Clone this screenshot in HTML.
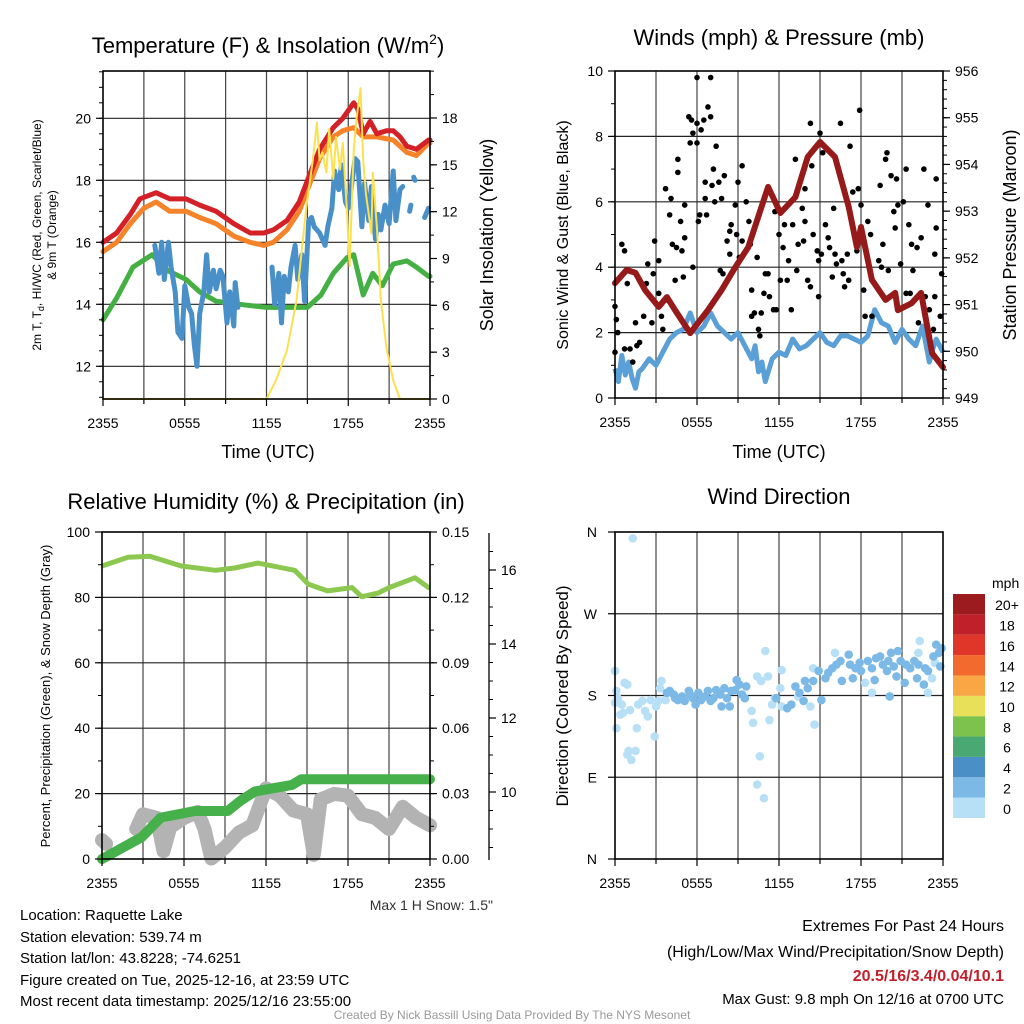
<!DOCTYPE html>
<html><head><meta charset="utf-8"><style>
body{margin:0;background:#fff}
svg{display:block;font-family:"Liberation Sans",sans-serif}
</style></head><body>
<svg id="fig" width="1024" height="1024" viewBox="0 0 1024 1024" xmlns="http://www.w3.org/2000/svg">
<rect width="1024" height="1024" fill="#fff"/>
<g id="p1"></g>
<g id="p2"></g>
<g id="p3"></g>
<g id="p4"></g>

<text x="268" y="53" font-size="22" text-anchor="middle">Temperature (F) &amp; Insolation (W/m<tspan font-size="14" dy="-9">2</tspan><tspan dy="9">)</tspan></text>
<text x="779" y="45" font-size="22" text-anchor="middle">Winds (mph) &amp; Pressure (mb)</text>
<text x="266" y="509" font-size="22" text-anchor="middle">Relative Humidity (%) &amp; Precipitation (in)</text>
<text x="779" y="504" font-size="22" text-anchor="middle">Wind Direction</text>

<text x="268" y="458" font-size="18" text-anchor="middle">Time (UTC)</text>
<text x="779" y="458" font-size="18" text-anchor="middle">Time (UTC)</text>

<text transform="translate(41,235) rotate(-90)" font-size="12" text-anchor="middle">2m T, T<tspan font-size="9" dy="3">d</tspan><tspan dy="-3">, HI/WC (Red, Green, Scarlet/Blue)</tspan></text>
<text transform="translate(56,235) rotate(-90)" font-size="12" text-anchor="middle">&amp; 9m T (Orange)</text>
<text transform="translate(493,235) rotate(-90)" font-size="18" text-anchor="middle">Solar Insolation (Yellow)</text>
<text transform="translate(568,235) rotate(-90)" font-size="16" text-anchor="middle">Sonic Wind &amp; Gust (Blue, Black)</text>
<text transform="translate(1016,235) rotate(-90)" font-size="18" text-anchor="middle">Station Pressure (Maroon)</text>
<text transform="translate(50,696) rotate(-90)" font-size="13" text-anchor="middle">Percent, Precipitation (Green), &amp; Snow Depth (Gray)</text>
<text transform="translate(568,696) rotate(-90)" font-size="17" text-anchor="middle">Direction (Colored By Speed)</text>

<text x="493" y="910" font-size="14" text-anchor="end" fill="#333">Max 1 H Snow: 1.5"</text>
<g font-size="15">
<text x="20" y="920">Location: Raquette Lake</text>
<text x="20" y="942">Station elevation: 539.74 m</text>
<text x="20" y="963">Station lat/lon: 43.8228; -74.6251</text>
<text x="20" y="985">Figure created on Tue, 2025-12-16, at 23:59 UTC</text>
<text x="20" y="1006">Most recent data timestamp: 2025/12/16 23:55:00</text>
</g>
<g font-size="16" text-anchor="end">
<text x="1004" y="931">Extremes For Past 24 Hours</text>
<text x="1004" y="957">(High/Low/Max Wind/Precipitation/Snow Depth)</text>
<text x="1004" y="981" fill="#c21f2a" font-weight="bold">20.5/16/3.4/0.04/10.1</text>
<text x="1004" y="1004" font-size="15">Max Gust: 9.8 mph On 12/16 at 0700 UTC</text>
</g>
<text x="512" y="1019" font-size="12" text-anchor="middle" fill="#999">Created By Nick Bassill Using Data Provided By The NYS Mesonet</text>
</svg>
<script>
// ---------- DATA ----------
const xTickLabels = ["2355","0555","1155","1755","2355"];
const tempTicks = [12,14,16,18,20];
const insolTicks = [0,3,6,9,12,15,18];
const windTicks = [0,2,4,6,8,10];
const presTicks = [949,950,951,952,953,954,955,956];
const rhTicks = [0,20,40,60,80,100];
const precipTicks = [0.00,0.03,0.06,0.09,0.12,0.15];
const snowTicks = [10,12,14,16];
const dirTicks = ["N","E","S","W","N"];
const legendLabels = ["0","2","4","6","8","10","12","14","16","18","20+"];
const legendColors = ["#b7e0f7","#7db9e6","#4a8fc6","#4aa873","#7cc24c","#e9e05a","#f9a645","#f26a2e","#e0362a","#c0202a","#9b1b1e"];

const redT = [0,1,2,2.7,3.9,4.9,6.1,7.1,8.3,9.6,10.8,11.8,12.5,13.5,14.4,15.1,15.9,16.9,17.6,18.4,18.7,19.1,19.6,20.1,20.8,21.3,21.8,22.3,23,23.9,24];
const redV = [16.0,16.3,16.9,17.4,17.6,17.4,17.4,17.2,17.0,16.6,16.3,16.3,16.4,16.7,17.3,18.1,19.0,19.7,20.0,20.5,20.3,19.5,19.9,19.5,19.6,19.6,19.4,19.1,19.0,19.3,19.3];
const orgT = [0,1,2,3,3.9,4.9,6.1,7.1,8.3,9.6,10.8,11.8,12.5,13.5,14.4,15.1,15.9,16.9,17.6,18.4,19.1,20.1,21.3,22.3,23,23.9,24];
const orgV = [15.7,16.0,16.6,17.1,17.3,17.0,17.0,16.8,16.6,16.2,16.0,15.9,16.0,16.4,17.0,17.8,18.7,19.4,19.6,19.7,19.4,19.4,19.3,18.9,18.8,19.2,19.2];
const dewT = [0,1,2.2,3.6,4.7,6.1,7.1,8.3,10,12,13.5,15,16,16.9,17.9,18.4,19.1,19.8,20.5,21.3,22.3,23,23.9,24];
const dewV = [13.5,14.2,15.2,15.6,15.1,14.8,14.4,14.1,14.0,13.9,13.9,13.9,14.3,15.0,15.5,15.6,14.3,15.0,14.6,15.3,15.4,15.2,14.9,14.9];
const hiT = [3.8,4.1,4.3,4.5,4.8,5.0,5.3,5.5,5.8,6.0,6.3,6.5,6.7,6.9,7.1,7.4,7.6,7.8,8.1,8.3,8.6,8.8,9.1,9.3,9.6,9.7,9.9,null,12.4,12.6,12.9,13.1,13.3,13.6,13.8,14.1,14.3,14.6,14.8,15.1,15.3,15.5,15.9,16.3,16.5,16.8,17.0,17.3,17.5,17.8,18.0,18.2,18.5,18.7,19.0,19.2,19.5,19.7,20.0,20.2,20.4,20.7,21.0,21.3,21.5,21.8,22.0,null,22.5,22.6,null,22.8,22.9,null,23.6,23.9];
const hiV = [15.9,15.0,16.0,14.8,16.0,15.2,14.4,13.1,12.9,14.6,13.9,13.7,12.7,12.0,13.7,14.4,15.6,14.4,15.1,14.5,15.1,14.9,13.4,14.4,13.3,14.7,13.9,null,15.2,14.0,15.0,13.4,14.9,14.4,15.2,15.9,14.8,15.6,14.1,16.7,16.8,16.5,16.3,15.9,16.5,17.1,18.3,17.7,18.5,17.3,17.1,17.7,18.7,18.6,16.5,17.9,16.7,17.8,16.1,16.9,16.4,17.2,16.6,18.3,16.7,17.7,17.8,null,17.0,17.2,null,18.1,18.0,null,16.8,17.1];
const solT = [0,12.0,12.7,13.5,14.2,14.9,15.4,15.7,15.9,16.1,16.4,16.6,16.9,17.1,17.4,17.6,17.9,18.1,18.4,18.6,18.9,19.1,19.3,19.7,19.8,20.1,20.4,20.8,21.3,21.8,24];
const solV = [0,0,1.2,3.1,6.3,12.1,15.3,17.7,15.3,15.8,14.5,17.3,14.1,16.8,14.7,16.4,12.1,8.5,15.9,17.9,19.9,15.3,13.1,10.6,14.5,11.0,6.3,3.3,1.2,0,0];

const sonicT = [0,0.25,0.5,0.75,1,1.25,1.5,1.75,2,2.5,3,3.5,4,4.5,5,5.5,6,6.5,7,7.5,8,8.5,9,9.5,10,10.25,10.5,10.75,11,11.5,12,12.5,13,13.5,14,14.5,15,15.5,16,16.5,17,17.5,18,18.5,19,19.5,20,20.5,21,21.5,22,22.5,23,23.25,23.5,24];
const sonicV = [0.9,0.5,1.3,0.7,1.1,0.6,0.3,0.8,0.9,1.2,1.0,1.4,1.8,2.0,2.1,2.6,2.0,2.2,2.6,2.2,2.0,1.8,2.0,1.6,1.2,1.6,0.8,1.1,0.5,1.2,1.4,1.3,1.8,1.5,1.6,1.8,2.0,1.7,1.6,1.9,1.9,1.8,1.7,1.9,2.7,2.3,2.2,1.7,2.1,1.8,1.6,2.2,1.1,1.5,1.8,1.4];
const presT = [0,0.85,1.5,2.2,3.2,3.8,4.4,5.5,6.8,7.8,8.8,9.75,11.2,12.1,13.2,14.1,15,16.1,17.1,17.7,18,18.8,19.8,20.5,20.7,21.7,22.4,23.2,24];
const presV = [951.46,951.74,951.68,951.31,950.95,951.16,950.88,950.39,950.88,951.31,951.8,952.23,953.52,952.96,953.3,954.16,954.48,954.16,953.09,952.23,952.66,951.53,951.1,951.25,950.88,951.03,951.25,949.96,949.66];
const gustT = [0.0,0.1,0.0,0.2,0.5,0.7,0.9,0.7,1.1,1.3,1.6,1.8,1.5,2.1,2.3,2.4,2.7,2.8,2.9,3.2,3.2,3.4,3.5,3.7,3.8,4.0,4.1,4.2,4.4,4.5,4.6,4.6,4.8,4.9,5.0,5.1,5.1,5.4,5.5,5.6,5.7,5.7,6.0,6.0,6.1,6.2,6.3,6.5,6.6,6.6,6.7,6.8,7.0,7.0,6.0,7.1,7.2,7.3,7.4,7.6,7.7,7.8,7.9,8.0,8.2,8.4,8.4,8.5,8.8,8.9,9.0,9.1,9.3,9.3,9.6,9.8,9.9,10.0,10.0,10.2,10.4,10.5,10.6,10.7,10.9,11.0,11.2,11.3,11.6,11.7,11.8,12.0,12.1,12.3,12.4,12.6,12.7,12.9,13.0,13.2,13.3,13.4,13.7,13.8,13.9,13.9,14.1,14.3,14.3,14.4,14.5,14.8,14.9,14.9,15.0,15.1,15.2,15.4,15.6,15.7,15.9,16.0,16.1,16.2,16.5,16.6,16.7,16.8,17.0,17.1,17.2,17.4,17.7,17.8,17.9,18.0,18.2,18.3,18.5,18.7,18.8,18.8,19.3,19.4,19.5,19.6,19.8,19.9,20.0,20.2,20.4,20.5,20.6,20.7,20.9,21.1,21.3,21.3,21.5,21.6,21.7,21.8,22.1,22.2,22.4,22.6,22.7,22.9,23.0,23.3,23.4,23.4,23.5,23.5,23.8,23.9];
const gustV = [2.8,2.4,1.4,2.0,4.7,4.5,3.5,1.5,1.5,1.1,1.6,1.7,2.3,2.5,3.5,4.1,2.3,3.8,4.8,4.2,3.2,2.5,2.1,6.4,3.0,5.6,6.1,4.7,3.6,4.6,6.9,7.3,5.4,4.5,3.7,5.9,4.9,8.6,7.8,8.5,8.1,4.0,8.4,7.8,5.4,5.6,8.2,8.5,6.1,6.6,5.6,8.9,8.6,9.8,9.8,6.5,7.0,6.0,7.7,6.6,3.9,6.1,3.8,6.8,4.8,5.1,4.4,5.3,5.9,5.0,6.6,4.3,4.8,7.1,6.0,5.4,4.7,3.3,2.5,2.6,4.3,2.1,1.9,2.6,3.2,3.8,3.8,3.1,2.7,5.7,2.7,5.0,3.6,4.6,5.3,3.6,4.2,2.7,5.3,7.3,3.9,4.7,5.8,4.8,5.4,6.4,3.6,3.4,8.4,7.1,5.0,4.5,4.2,3.1,8.1,4.4,7.5,5.3,4.9,4.6,3.7,5.8,4.4,4.1,8.4,4.2,3.8,3.4,4.4,3.6,7.7,6.3,4.5,6.4,8.8,5.9,3.3,2.5,5.4,5.0,2.5,3.6,4.2,6.5,4.0,4.7,7.3,7.5,3.9,6.8,5.7,5.2,6.7,5.9,4.1,6.0,7.0,3.2,5.3,3.2,4.7,3.9,4.6,2.3,4.9,7.0,3.1,5.9,2.7,2.1,4.4,3.1,5.2,6.7,2.5,3.8];

const rhT = [0,1.9,3.5,5.8,8.3,9.7,11.4,14.1,15.1,16.5,18.3,19,20.2,21,22.9,23.9,24];
const rhV = [89.6,92.3,92.6,89.6,88.3,89,90.5,88.3,84,82,83,80.2,81.3,83,86,83,83];
const precipT = [0,2.9,4.3,6.8,9.2,10.2,11.2,13.9,14.6,24];
const precipV = [0,0.010,0.019,0.022,0.022,0.027,0.031,0.034,0.0366,0.0366];
const snowT = [0,0.3,null,2.5,3,4,4.5,5,6,7,7.5,8,9,10,11,12,13,14,15,15.5,16,17,18,19,20,21,22,23,24];
const snowV = [8.7,8.6,null,9.0,9.4,9.3,8.4,9.05,9.3,9.46,9.0,8.2,8.5,8.9,9.1,10.1,9.9,9.5,9.4,8.3,9.8,9.95,9.9,9.4,9.3,9.0,9.6,9.3,9.1];

const dirT = [0,0.1,0.2,0,0.5,0.9,0.7,0.4,0.6,1.1,0.1,1.0,0.9,1.2,1.5,1.6,1.3,1.7,2.0,2.2,2.4,2.6,2.9,3.0,3.2,3.4,3.3,3.7,10.0,10.1,10.4,10.6,10.4,10.9,11.0,10.7,11.2,11.3,11.5,11.7,12.1,12.2,12.2,14.3,14.5,14.6,13.4,16.1,18.3,18.8,22.3,22.9,23.2,23.4,22.2,
3.8,4.0,4.3,4.4,4.6,4.9,5.1,5.4,5.5,5.7,5.9,6.1,6.3,6.6,6.8,7.0,7.2,7.4,7.7,7.8,8.0,8.2,8.4,8.5,8.8,8.9,9.1,9.3,9.5,9.6,11.8,12.6,12.9,13.2,13.5,13.8,13.9,14.1,14.5,14.9,15.1,15.4,15.6,15.9,16.2,16.5,16.6,17.1,17.2,17.4,17.6,17.9,18.0,18.5,18.8,19.0,19.1,19.4,19.6,19.9,20.0,20.1,20.2,20.4,20.6,20.7,20.9,21.2,21.3,21.6,21.9,22.1,22.2,22.6,22.7,22.9,23.3,23.5,23.7,23.9,23.8];
const dirV = [207,185,177,172,170,192,194,159,161,164,144,119,115,109,119,144,353,170,174,163,157,175,135,168,174,196,188,175,163,150,201,113,82,67,229,196,201,153,170,177,188,208,168,168,210,148,179,227,194,183,240,183,199,216,227,
183,185,181,177,175,179,174,185,181,177,170,183,175,179,185,174,177,186,181,168,188,177,168,185,186,197,192,181,177,190,177,166,170,190,183,174,196,188,196,207,175,199,205,210,214,218,196,225,214,199,210,216,207,218,210,197,221,223,214,207,218,179,227,212,201,229,218,194,214,210,218,199,214,192,210,207,223,236,227,232,212];
const dirSpd = [1,1,1,1,1,1,1,1,1,1,1,1,1,1,1,1,1,1,1,1,1,1,1,1,1,1,1,1,1,1,1,1,1,1,1,1,1,1,1,1,1,1,1,1,1,1,1,1,1,1,1,1,1,1,1,
3,3,3,3,3,3,3,3,3,3,3,3,3,3,3,3,3,3,3,3,3,3,3,3,3,3,3,3,3,3,3,3,3,3,3,3,3,3,3,3,3,3,3,3,3,3,3,3,3,3,3,3,3,3,3,3,3,3,3,3,3,3,3,3,3,3,3,3,3,3,3,3,3,3,3,3,3,3,3,3,3];

// ---------- HELPERS ----------
const NS = "http://www.w3.org/2000/svg";
function mk(parent, tag, attrs, text){
  const e = document.createElementNS(NS, tag);
  for (const k in attrs) e.setAttribute(k, attrs[k]);
  if (text !== undefined) e.textContent = text;
  parent.appendChild(e); return e;
}
function lin(d0,d1,r0,r1){ return v => r0 + (v-d0)*(r1-r0)/(d1-d0); }
function pathD(ts, vs, sx, sy){
  let d = "", pen = false;
  for (let i=0;i<ts.length;i++){
    if (ts[i]===null || vs[i]===null){ pen=false; continue; }
    d += (pen?"L":"M") + sx(ts[i]).toFixed(1) + "," + sy(vs[i]).toFixed(1);
    pen = true;
  }
  return d;
}
function frame(g, P, hLines, name){
  const gr = mk(g,"g",{});
  
  
  for (let i=1;i<8;i++){
    const x = P.x0 + i*(P.x1-P.x0)/8;
    mk(gr,"line",{x1:x,x2:x,y1:P.y0,y2:P.y1,stroke:"#444","stroke-width":1.2});
  }
  hLines.forEach(y => mk(gr,"line",{x1:P.x0,x2:P.x1,y1:y,y2:y,stroke:"#222","stroke-width":1.2}));
}
function border(g,P,name){
  const r = mk(g,"rect",{x:P.x0,y:P.y0,width:P.x1-P.x0,height:P.y1-P.y0,fill:"none",stroke:"#000","stroke-width":1.6});
  
  
}
function xAxis(g,P,name){
  const ax = mk(g,"g",{});
  
  
  for (let i=0;i<=8;i++){
    const x = P.x0 + i*(P.x1-P.x0)/8;
    mk(ax,"line",{x1:x,x2:x,y1:P.y1,y2:P.y1+(i%2===0?7:5),stroke:"#000","stroke-width":1.2});
  }
  xTickLabels.forEach((l,i)=>{
    const t = mk(ax,"text",{x:P.x0+i*(P.x1-P.x0)/4,y:P.y1+29,"font-size":14,"text-anchor":"middle"},l);
    
    
  });
}
function yTicks(g, ticks, sy, x, side, fmt, name, minor){
  const ax = mk(g,"g",{});
  
  
  const dir = side==="left"?-1:1;
  if (minor) minor.forEach(v => mk(ax,"line",{x1:x,x2:x+dir*4,y1:sy(v),y2:sy(v),stroke:"#000","stroke-width":1}));
  ticks.forEach(v=>{
    const y = sy(v);
    mk(ax,"line",{x1:x,x2:x+dir*7,y1:y,y2:y,stroke:"#000","stroke-width":1.2});
    const t = mk(ax,"text",{x:x+dir*12,y:y+5,"font-size":14,"text-anchor":side==="left"?"end":"start"},fmt(v));
    
    
  });
}
function halfSteps(a,b,s){ const r=[]; for(let v=a; v<=b+1e-9; v+=s) r.push(v); return r; }

// ---------- PANEL 1 ----------
(function(){
  const g = document.getElementById("p1");
  const P = {x0:103,x1:430,y0:71,y1:399};
  const sx = lin(0,24,P.x0,P.x1);
  const sy = lin(14,20,304.3,118.3);
  const sr = lin(0,18,399,118);
  frame(g,P,tempTicks.map(sy),"temperature");
  const addLine = (ts,vs,sc,color,w,name)=>{
    const p = mk(g,"path",{d:pathD(ts,vs,sx,sc),fill:"none",stroke:color,"stroke-width":w,"stroke-linejoin":"round","stroke-linecap":"round"});
    
    
  };
  addLine(dewT,dewV,sy,"#44b043",5,"dewpoint-line");
  addLine(orgT,orgV,sy,"#f5832a",5,"temp-9m-line");
  addLine(redT,redV,sy,"#d42027",5,"temp-2m-line");
  addLine(hiT,hiV,sy,"#4a90c8",5,"heat-index-windchill-line");
  addLine(solT,solV,sr,"#fbe050",2,"solar-insolation-line");
  border(g,P,"temperature");
  xAxis(g,P,"temperature");
  yTicks(g,tempTicks,sy,P.x0,"left",v=>v,"temperature-y-axis",halfSteps(11,21.5,0.5));
  yTicks(g,insolTicks,sr,P.x1,"right",v=>v,"insolation-y-axis",halfSteps(0,21,1.5));
})();

// ---------- PANEL 2 ----------
(function(){
  const g = document.getElementById("p2");
  const P = {x0:615,x1:943,y0:71,y1:398};
  const sx = lin(0,24,P.x0,P.x1);
  const sy = lin(0,10,398,71);
  const sp = lin(949,956,398,71);
  frame(g,P,[2,4,6,8].map(sy),"winds");
  const w = mk(g,"path",{d:pathD(sonicT,sonicV,sx,sy),fill:"none",stroke:"#5a9fd6","stroke-width":5,"stroke-linejoin":"round"});
  
  
  const gg = mk(g,"g",{});
  
  
  gustT.forEach((t,i)=>{
    const c = mk(gg,"circle",{cx:sx(t),cy:sy(gustV[i]),r:2.8,fill:"#000"});
    
    
  });
  const p = mk(g,"path",{d:pathD(presT,presV,sx,sp),fill:"none",stroke:"#961a1a","stroke-width":6,"stroke-linejoin":"round","stroke-linecap":"round"});
  
  
  border(g,P,"winds");
  xAxis(g,P,"winds");
  yTicks(g,windTicks,sy,P.x0,"left",v=>v,"wind-y-axis",halfSteps(0,10,1));
  yTicks(g,presTicks,sp,P.x1,"right",v=>v,"pressure-y-axis",halfSteps(949,956,0.2));
})();

// ---------- PANEL 3 ----------
(function(){
  const g = document.getElementById("p3");
  const P = {x0:102,x1:430,y0:532,y1:859};
  const sx = lin(0,24,P.x0,P.x1);
  const sy = lin(0,100,859,532);
  const spr = lin(0,0.15,859,532);
  const ssn = lin(10,16,792,570);
  frame(g,P,[20,40,60,80].map(sy),"humidity");
  const sn = mk(g,"path",{d:pathD(snowT,snowV,sx,ssn),fill:"none",stroke:"#b3b3b3","stroke-width":14,"stroke-linejoin":"round","stroke-linecap":"round"});
  
  
  const pr = mk(g,"path",{d:pathD(precipT,precipV,sx,spr),fill:"none",stroke:"#46b04a","stroke-width":10,"stroke-linejoin":"round","stroke-linecap":"round"});
  
  
  const rh = mk(g,"path",{d:pathD(rhT,rhV,sx,sy),fill:"none",stroke:"#8cc850","stroke-width":5,"stroke-linejoin":"round"});
  
  
  border(g,P,"humidity");
  xAxis(g,P,"humidity");
  yTicks(g,rhTicks,sy,P.x0,"left",v=>v,"humidity-y-axis",halfSteps(0,100,10));
  yTicks(g,precipTicks,spr,P.x1,"right",v=>v.toFixed(2),"precipitation-y-axis",halfSteps(0,0.15,0.015));
  const sa = mk(g,"line",{x1:489,x2:489,y1:533,y2:860,stroke:"#000","stroke-width":1.3});
  
  
  yTicks(g,snowTicks,ssn,489,"right",v=>v,"snow-depth-y-axis",halfSteps(8.5,16.5,0.5));
})();

// ---------- PANEL 4 ----------
(function(){
  const g = document.getElementById("p4");
  const P = {x0:615,x1:943,y0:532,y1:859};
  const sx = lin(0,24,P.x0,P.x1);
  const sy = lin(0,360,859,532);
  frame(g,P,[90,180,270].map(sy),"direction");
  const dg = mk(g,"g",{});
  
  
  dirT.forEach((t,i)=>{
    const c = mk(dg,"circle",{cx:sx(t),cy:sy(dirV[i]),r:4.3,fill:legendColors[Math.min(10,Math.floor(dirSpd[i]/2))]});
    
    
  });
  border(g,P,"direction");
  xAxis(g,P,"direction");
  const ax = mk(g,"g",{});
  
  
  dirTicks.forEach((l,i)=>{
    const y = sy(i*90);
    mk(ax,"line",{x1:P.x0,x2:P.x0-7,y1:y,y2:y,stroke:"#000","stroke-width":1.2});
    mk(ax,"text",{x:P.x0-18,y:y+5,"font-size":14,"text-anchor":"end"},l);
  });
  const lg = mk(g,"g",{});
  
  
  mk(lg,"text",{x:992,y:588,"font-size":14,"text-anchor":"start"},"mph");
  const bh = (818-594)/legendColors.length;
  legendColors.forEach((c,i)=>{
    const y = 818 - (i+1)*bh;
    const r = mk(lg,"rect",{x:953,y:y,width:32,height:bh,fill:c});
    
    
    mk(lg,"text",{x:1007,y:y+bh/2+6,"font-size":14,"text-anchor":"middle"},legendLabels[i]);
  });
})();
</script>
</body></html>
